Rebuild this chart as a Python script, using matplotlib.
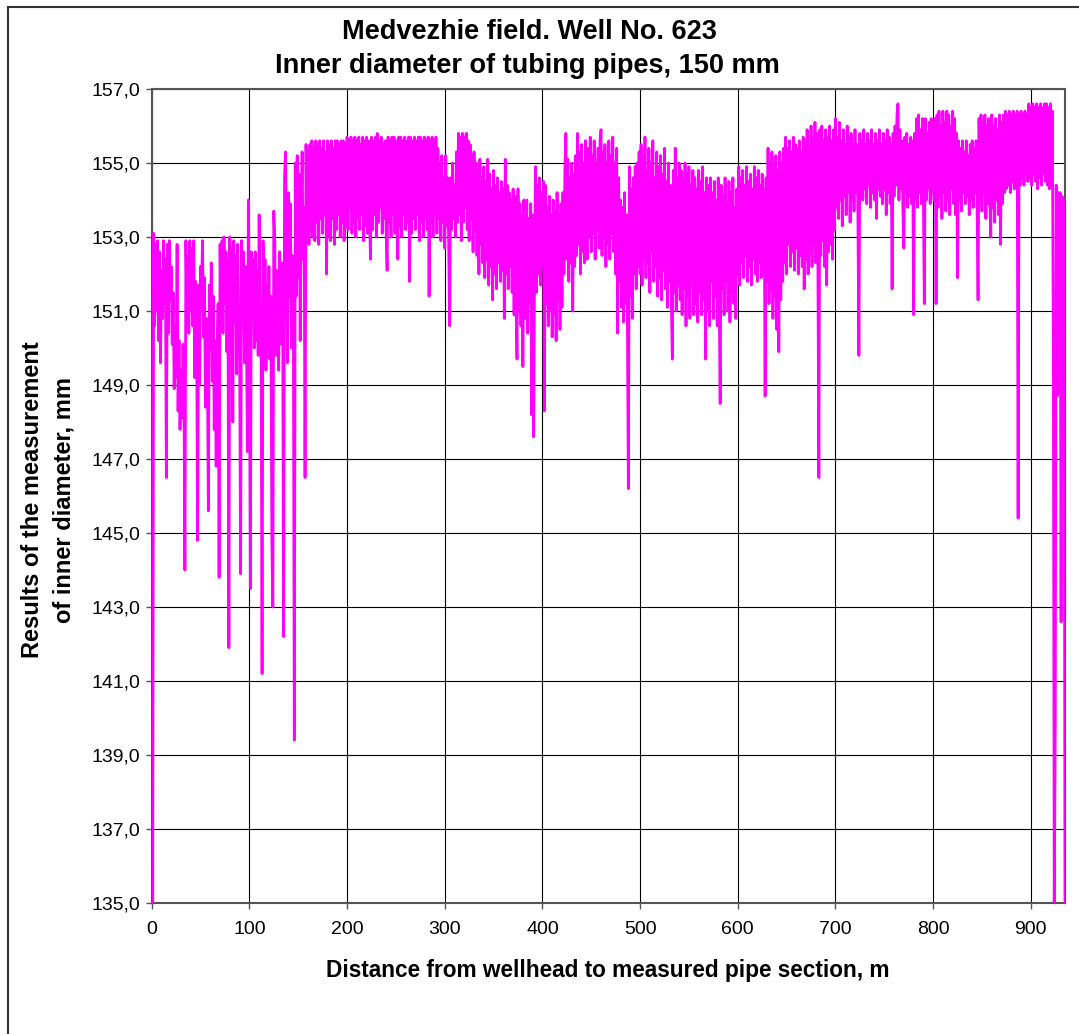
import numpy as np
import matplotlib
matplotlib.use("Agg")
import matplotlib.pyplot as plt
from matplotlib.patches import Rectangle
from matplotlib.ticker import FuncFormatter

plt.rcParams["font.family"] = ["Liberation Sans", "DejaVu Sans"]

# --- data: inner diameter (mm) read every 1 m, one list per 100 m section ---
SECTION_START_M = [0, 100, 200, 300, 400, 500, 600, 700, 800, 900]
STEP_M = 1.0

D_000 = [
    150.0, 135.0, 153.1, 150.6, 152.8, 151.0, 152.9, 150.2, 152.6, 149.6,
    152.1, 150.8, 152.9, 151.2, 152.4, 146.5, 152.8, 150.4, 152.9, 151.3,
    152.2, 150.1, 151.5, 148.9, 150.6, 149.2, 152.8, 148.3, 150.2, 147.8,
    149.4, 148.1, 150.1, 149.0, 144.0, 152.9, 151.1, 152.5, 150.4, 152.9,
    151.0, 152.7, 150.6, 152.9, 149.2, 151.8, 150.5, 144.8, 151.7, 149.0,
    152.2, 151.4, 152.9, 150.3, 151.9, 148.4, 150.8, 149.6, 145.6, 151.7,
    150.0, 152.3, 149.1, 151.4, 147.8, 150.2, 146.8, 149.9, 151.2, 143.8,
    152.8, 150.7, 152.9, 150.4, 153.0, 151.2, 152.6, 149.9, 152.4, 141.9,
    153.0, 150.0, 152.7, 148.0, 152.9, 150.7, 152.5, 149.3, 152.8, 151.0,
    150.2, 143.9, 152.9, 151.4, 152.6, 149.6, 152.2, 150.3, 147.2, 154.0,
]
D_100 = [
    150.8, 143.5, 152.6, 151.2, 152.4, 150.0, 152.6, 150.2, 152.1, 149.8,
    153.6, 151.0, 150.2, 141.2, 152.9, 149.9, 152.4, 149.4, 151.7, 150.0,
    152.2, 149.7, 151.4, 144.8, 143.0, 153.7, 152.9, 149.8, 152.1, 151.7,
    149.4, 152.6, 151.2, 150.1, 152.3, 142.2, 154.6, 155.3, 152.8, 149.6,
    154.2, 151.4, 153.9, 150.0, 152.5, 151.0, 139.4, 155.0, 151.4, 155.2,
    151.9, 154.7, 150.2, 153.2, 155.3, 152.4, 153.8, 146.5, 155.5, 152.9,
    155.3, 152.8, 155.5, 153.2, 155.6, 153.0, 155.4, 152.9, 155.6, 153.4,
    155.5, 152.8, 155.6, 153.5, 155.4, 153.1, 155.6, 153.6, 155.3, 152.0,
    155.6, 153.0, 155.5, 152.9, 155.6, 153.5, 155.4, 152.8, 155.6, 153.2,
    155.6, 153.6, 155.5, 153.0, 155.6, 153.4, 155.6, 152.9, 155.5, 153.3,
]
D_200 = [
    155.7, 153.2, 155.6, 153.8, 155.7, 153.1, 155.6, 153.4, 155.7, 153.0,
    155.6, 153.5, 155.7, 153.2, 155.5, 153.6, 155.7, 152.9, 155.6, 153.3,
    155.7, 153.1, 155.6, 153.5, 152.4, 155.7, 153.2, 155.6, 153.6, 155.7,
    153.0, 155.8, 153.4, 155.6, 153.8, 155.7, 153.1, 155.5, 153.5, 155.6,
    153.2, 152.1, 155.7, 153.4, 155.6, 153.0, 155.7, 153.6, 155.7, 153.1,
    155.6, 153.5, 152.4, 155.7, 153.3, 155.7, 153.0, 155.6, 153.6, 155.7,
    153.2, 155.6, 153.4, 155.7, 151.8, 155.7, 153.1, 155.6, 153.5, 155.7,
    153.2, 155.6, 153.6, 155.7, 152.9, 155.7, 153.4, 155.6, 153.0, 155.7,
    153.5, 155.6, 153.2, 155.7, 151.4, 155.6, 153.4, 155.7, 153.0, 155.6,
    153.6, 155.7, 153.1, 155.4, 153.5, 155.0, 152.9, 155.2, 153.4, 154.6,
]
D_300 = [
    152.7, 155.2, 153.3, 154.6, 152.9, 150.6, 154.6, 153.2, 155.0, 153.5,
    154.4, 153.0, 155.3, 153.4, 155.8, 153.6, 155.7, 152.9, 155.8, 153.4,
    155.7, 153.8, 155.8, 153.2, 155.6, 152.9, 155.5, 153.5, 155.2, 152.6,
    155.3, 153.2, 155.0, 152.5, 154.8, 152.0, 155.1, 152.8, 154.6, 152.3,
    154.9, 151.9, 154.5, 152.4, 155.1, 151.7, 154.7, 152.2, 154.3, 151.3,
    154.8, 152.0, 154.4, 151.6, 154.6, 152.3, 154.2, 151.8, 154.5, 152.1,
    154.3, 150.8, 155.1, 152.0, 154.4, 151.6, 154.2, 152.2, 154.0, 151.5,
    154.3, 150.9, 154.1, 151.2, 149.7, 154.3, 151.0, 153.9, 150.6, 153.6,
    149.5, 154.0, 150.8, 153.8, 154.0, 150.4, 153.5, 151.2, 153.9, 148.2,
    153.6, 147.6, 152.8, 154.9, 151.5, 154.4, 152.0, 154.6, 151.7, 154.2,
]
D_400 = [
    152.2, 154.5, 148.3, 154.4, 151.2, 153.8, 150.6, 154.1, 151.0, 153.6,
    150.3, 154.0, 150.9, 153.7, 150.2, 154.2, 151.3, 153.6, 150.5, 153.9,
    151.1, 154.2, 152.0, 154.8, 155.8, 152.4, 155.1, 151.8, 154.6, 152.3,
    155.0, 151.0, 154.7, 152.2, 155.2, 152.5, 155.8, 152.8, 155.3, 152.0,
    155.5, 152.6, 155.0, 152.3, 155.6, 152.8, 152.4, 155.4, 153.0, 155.7,
    152.6, 155.2, 153.1, 155.6, 152.4, 155.0, 153.2, 155.4, 152.7, 155.6,
    155.9, 152.5, 155.3, 153.0, 155.5, 152.2, 155.0, 152.8, 155.6, 152.4,
    155.2, 153.1, 155.7, 152.6, 155.0, 152.0, 155.4, 150.4, 154.6, 151.8,
    154.0, 151.1, 153.8, 150.7, 154.2, 151.2, 153.6, 150.8, 146.2, 154.9,
    151.4, 154.3, 150.8, 154.6, 152.0, 154.9, 151.6, 155.0, 152.2, 155.3,
]
D_500 = [
    152.0, 155.5, 151.7, 155.2, 152.4, 155.7, 151.9, 154.8, 152.3, 155.4,
    151.5, 155.0, 152.6, 155.6, 151.8, 154.6, 152.2, 155.3, 151.4, 154.9,
    151.9, 155.2, 151.3, 154.7, 152.1, 155.4, 151.6, 154.5, 151.1, 155.0,
    151.8, 154.4, 151.2, 149.7, 154.8, 151.5, 155.4, 151.0, 154.6, 151.7,
    155.0, 151.3, 154.8, 150.9, 154.5, 151.6, 155.0, 150.6, 154.7, 151.4,
    154.9, 150.8, 154.4, 151.7, 154.8, 150.9, 154.6, 151.2, 154.3, 150.7,
    154.8, 151.5, 154.5, 150.9, 154.9, 151.3, 154.2, 149.7, 154.6, 151.0,
    154.4, 150.6, 154.6, 151.8, 154.2, 150.8, 154.5, 151.4, 154.0, 150.6,
    154.6, 151.2, 148.5, 154.4, 151.6, 154.1, 150.9, 154.6, 151.8, 153.9,
    151.0, 154.5, 150.7, 154.2, 151.5, 154.6, 151.2, 153.8, 150.8, 154.3,
]
D_600 = [
    152.0, 154.9, 151.7, 154.6, 152.3, 154.8, 151.9, 154.4, 152.5, 154.9,
    151.8, 154.5, 152.2, 154.7, 151.7, 154.3, 152.4, 154.9, 152.0, 154.6,
    151.8, 154.8, 152.3, 154.4, 151.9, 154.7, 152.1, 154.3, 148.7, 154.6,
    151.8, 155.4, 151.2, 155.0, 151.6, 155.3, 150.8, 154.9, 151.4, 155.2,
    150.5, 154.8, 149.9, 155.3, 151.3, 155.0, 151.8, 155.4, 152.3, 155.7,
    152.0, 155.4, 152.8, 155.6, 152.2, 155.3, 152.6, 155.7, 152.1, 155.5,
    152.7, 155.4, 152.0, 155.6, 152.5, 155.3, 152.2, 155.7, 151.6, 155.6,
    152.4, 155.9, 152.0, 155.5, 152.6, 156.0, 152.2, 155.7, 152.8, 156.1,
    152.3, 155.8, 152.6, 146.5, 155.9, 152.5, 156.0, 152.9, 155.6, 152.2,
    155.9, 151.7, 155.7, 152.6, 156.0, 152.8, 155.6, 152.4, 155.9, 153.2,
]
D_700 = [
    156.2, 153.8, 155.7, 153.5, 156.1, 154.0, 155.6, 153.3, 155.9, 154.1,
    155.5, 153.6, 156.0, 154.2, 155.7, 153.4, 155.8, 154.0, 155.5, 153.7,
    155.9, 154.2, 155.5, 153.6, 149.8, 155.8, 154.2, 155.6, 154.0, 155.9,
    154.3, 155.5, 153.9, 155.8, 154.4, 155.6, 153.8, 155.9, 154.2, 155.5,
    154.0, 155.8, 153.5, 155.6, 154.3, 155.9, 154.1, 155.5, 153.9, 155.8,
    154.3, 155.6, 153.6, 155.9, 154.2, 155.7, 153.9, 155.5, 151.6, 155.8,
    154.1, 156.0, 154.4, 156.3, 156.6, 154.0, 155.9, 154.3, 155.6, 153.8,
    152.7, 155.7, 154.2, 155.8, 153.8, 155.5, 154.1, 155.7, 153.9, 155.6,
    150.9, 155.8, 154.0, 156.2, 153.8, 156.3, 154.2, 155.9, 153.9, 156.2,
    154.1, 151.2, 156.2, 154.0, 155.8, 154.3, 156.1, 153.9, 156.2, 154.2,
]
D_800 = [
    155.9, 154.0, 156.2, 151.2, 156.3, 153.8, 156.4, 154.1, 156.0, 153.5,
    156.4, 154.2, 156.1, 153.7, 156.4, 154.0, 156.3, 153.6, 156.0, 154.3,
    156.4, 153.9, 156.2, 153.6, 155.8, 151.9, 155.6, 154.0, 155.4, 153.7,
    155.6, 154.2, 155.3, 153.9, 155.6, 154.1, 155.2, 153.6, 155.5, 154.0,
    155.6, 153.8, 155.4, 154.2, 155.6, 153.9, 151.3, 156.2, 154.0, 156.3,
    153.7, 156.1, 154.2, 156.3, 153.5, 156.0, 153.9, 156.2, 154.1, 153.0,
    156.3, 153.8, 156.0, 153.4, 156.2, 154.0, 155.9, 153.6, 156.3, 152.8,
    156.1, 153.9, 156.3, 154.2, 156.4, 154.3, 156.3, 154.4, 156.4, 154.2,
    156.3, 154.5, 156.4, 154.3, 156.3, 154.6, 156.4, 145.4, 156.3, 154.4,
    156.4, 154.6, 156.3, 154.4, 156.4, 154.7, 156.3, 154.5, 156.6, 154.6,
]
D_900 = [
    156.5, 154.4, 156.6, 154.7, 156.5, 154.5, 156.6, 154.3, 156.5, 154.6,
    156.6, 154.4, 156.5, 154.7, 156.6, 154.5, 156.6, 154.4, 156.5, 154.3,
    156.6, 154.4, 156.4, 150.5, 135.0, 139.8, 154.4, 148.7, 154.2, 150.5,
    154.2, 142.6, 154.1, 150.5, 154.0, 135.0,
]
SECTIONS = [D_000, D_100, D_200, D_300, D_400, D_500, D_600, D_700, D_800, D_900]

X_TICKS = [0, 100, 200, 300, 400, 500, 600, 700, 800, 900]
Y_TICKS = [135, 137, 139, 141, 143, 145, 147, 149, 151, 153, 155, 157]

TITLE_1 = "Medvezhie field. Well No. 623"
TITLE_2 = "Inner diameter of tubing pipes, 150 mm"
X_LABEL = "Distance from wellhead to measured pipe section, m"
Y_LABEL = "Results of the measurement\nof inner diameter, mm"

W, H = 1079, 1034
fig = plt.figure(figsize=(W / 100, H / 100), dpi=100)

# chart-area frame (cut off on the right and at the bottom in the original)
fig.add_artist(Rectangle((8 / W, -0.05), 1.2, 1 - 7 / H + 0.05,
                         transform=fig.transFigure, fill=False,
                         edgecolor="#333333", lw=1.5))

ax = fig.add_axes([151.7 / W, 1 - 903 / H, (1065 - 151.7) / W, (903 - 89) / H])

dist = np.concatenate([start + np.arange(len(seg)) * STEP_M
                       for start, seg in zip(SECTION_START_M, SECTIONS)])
diam = np.concatenate([np.asarray(seg, dtype=float) for seg in SECTIONS])
ax.plot(dist, diam, color="#FF00FF", lw=2.0, zorder=3)

ax.set_xlim(0, 935)
ax.set_ylim(135, 157)
ax.set_xticks(X_TICKS)
ax.set_yticks(Y_TICKS)
ax.yaxis.set_major_formatter(FuncFormatter(lambda v, p: f"{v:.1f}".replace(".", ",")))
ax.grid(True, color="black", lw=0.8)
ax.set_axisbelow(True)
for sp in ax.spines.values():
    sp.set_color("#555555")
    sp.set_linewidth(1.5)
ax.tick_params(direction="out", length=4, width=1, color="#555555",
               labelsize=14)
ax.tick_params(axis="x", pad=9)
ax.tick_params(axis="y", pad=4)

# two title lines placed separately to match the wider line spacing
fig.text(529 / W, 1 - 32 / H, TITLE_1, ha="center", va="center",
         fontsize=19.5, fontweight="bold")
fig.text(527 / W, 1 - 66 / H, TITLE_2, ha="center", va="center",
         fontsize=19.5, fontweight="bold")
fig.text(608 / W, 1 - 970 / H, X_LABEL, ha="center", va="center",
         fontsize=16.3, fontweight="bold")
fig.text(48.5 / W, 1 - 500 / H, Y_LABEL, ha="center", va="center",
         rotation=90, fontsize=17, fontweight="bold", linespacing=1.45)

fig.savefig("out.png", dpi=100)
